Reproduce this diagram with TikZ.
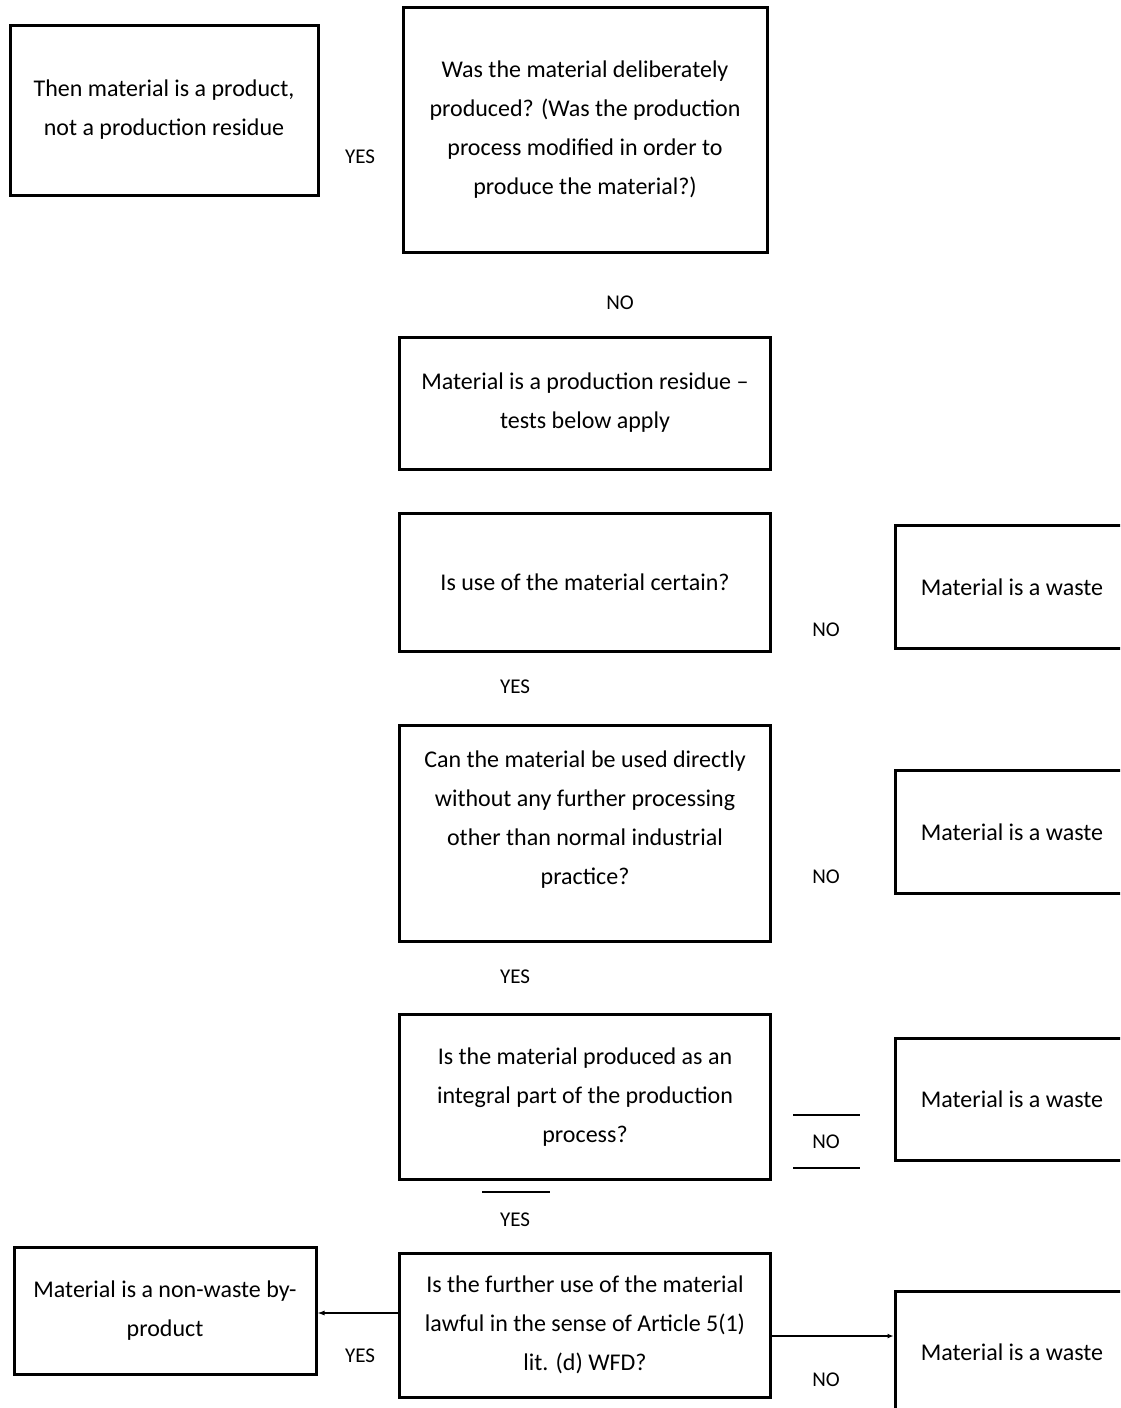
\documentclass[tikz,border=0pt]{standalone}
\usepackage{fontspec}
\setmainfont{Carlito}
\usetikzlibrary{arrows.meta}
\tikzset{
  box/.style={draw, line width=3pt, align=center, inner sep=0pt},
  yn/.style={font=\fontsize{21}{24}\selectfont},
  thinline/.style={line width=1.2pt},
}
\begin{document}
\begin{tikzpicture}[x=1pt, y=-1pt, font=\fontsize{24}{39}\selectfont]
\useasboundingbox (0,0) rectangle (1120,1408);
\clip (0,0) rectangle (1120,1408);
% question column
\node[box, minimum width=364, minimum height=245] (deliberate) at (585,130)
  {Was the material deliberately\\produced? (Was the production\\process modified in order to\\produce the material?)};
\node[box, minimum width=371, minimum height=132] (residue) at (585,403)
  {Material is a production residue --\\tests below apply};
\node[box, minimum width=371, minimum height=138] (certain) at (585,582)
  {Is use of the material certain?};
\node[box, minimum width=371, minimum height=216] (direct) at (585,833) {};
\node[align=center] (directText) at (585,820)
  {Can the material be used directly\\without any further processing\\other than normal industrial\\practice?};
\node[box, minimum width=371, minimum height=165] (integral) at (585,1097)
  {Is the material produced as an\\integral part of the production\\process?};
\node[box, minimum width=371, minimum height=144] (lawful) at (585,1325)
  {Is the further use of the material\\lawful in the sense of Article 5(1)\\lit. (d) WFD?};
% left column
\node[box, minimum width=308, minimum height=170] (product) at (164,110)
  {Then material is a product,\\not a production residue};
\node[box, minimum width=302, minimum height=127] (byproduct) at (165,1311)
  {Material is a non-waste by-\\product};
% right column, cut by the page edge
\node[box, minimum width=240, minimum height=123] (waste1) at (1015,587) {};
\node[box, minimum width=240, minimum height=123] (waste2) at (1015,832) {};
\node[box, minimum width=240, minimum height=122] (waste3) at (1015,1099) {};
\node[box, minimum width=240, minimum height=150] (waste4) at (1015,1366) {};
\foreach \w/\y in {waste1/587, waste2/832, waste3/1099, waste4/1352}
  \node at (1012,\y) {Material is a waste};
% answers
\node[yn] (yes1) at (360,157) {YES};
\node[yn] (no1) at (620,303) {NO};
\node[yn] (no2) at (826,630) {NO};
\node[yn] (yes2) at (515,687) {YES};
\node[yn] (no3) at (826,877) {NO};
\node[yn] (yes3) at (515,977) {YES};
\node[yn] (no4) at (826,1142) {NO};
\node[yn] (yes4) at (515,1220) {YES};
\node[yn] (yes5) at (360,1356) {YES};
\node[yn] (no5) at (826,1380) {NO};
% connectors
\draw[thinline, -{Latex[length=7pt,width=5pt]}] (lawful.west |- 0,1313) -- (byproduct.east |- 0,1313);
\draw[thinline, -{Latex[length=6pt,width=5pt]}] (lawful.east |- 0,1336) -- (waste4.west |- 0,1336);
\coordinate (n4a) at (793,1115); \coordinate (n4b) at (860,1115);
\coordinate (n4c) at (793,1168); \coordinate (n4d) at (860,1168);
\coordinate (y4a) at (482,1192); \coordinate (y4b) at (550,1192);
\draw[thinline] (n4a) -- (n4b);
\draw[thinline] (n4c) -- (n4d);
\draw[thinline] (y4a) -- (y4b);
\end{tikzpicture}
\end{document}
